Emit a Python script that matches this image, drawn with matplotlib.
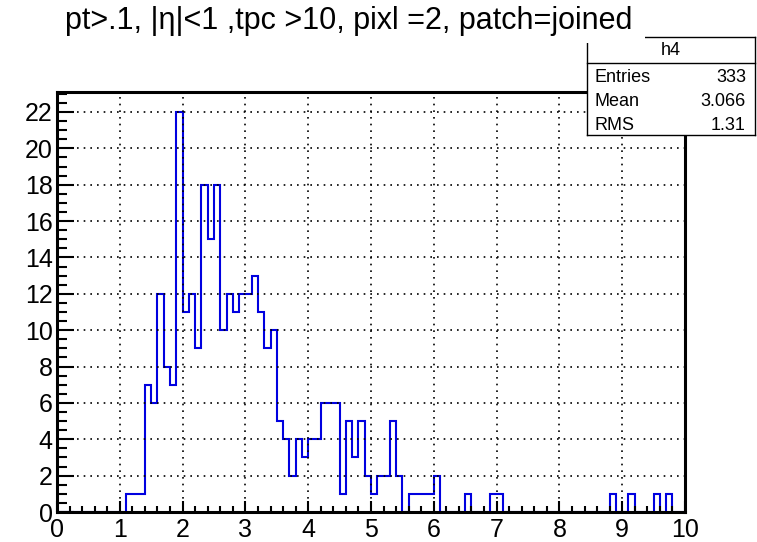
import numpy as np
import matplotlib.pyplot as plt
from matplotlib.lines import Line2D
from matplotlib.patches import Rectangle

plt.rcParams['font.family'] = ['Liberation Sans', 'DejaVu Sans']

# histogram h4: 100 bins of width 0.1 from 0 to 10
x_min = 0.0
x_max = 10.0
bin_counts = [
    0, 0, 0, 0, 0, 0, 0, 0, 0, 0,
    0, 1, 1, 1, 7, 6, 12, 8, 7, 22,
    11, 12, 9, 18, 15, 18, 10, 12, 11, 12,
    12, 13, 11, 9, 10, 5, 4, 2, 4, 3,
    4, 4, 6, 6, 6, 1, 5, 3, 5, 2,
    1, 2, 2, 5, 2, 0, 1, 1, 1, 1,
    2, 0, 0, 0, 0, 1, 0, 0, 0, 1,
    1, 0, 0, 0, 0, 0, 0, 0, 0, 0,
    0, 0, 0, 0, 0, 0, 0, 0, 1, 0,
    0, 1, 0, 0, 0, 1, 0, 1, 0, 0,
]
title = "pt>.1, |η|<1 ,tpc >10, pixl =2, patch=joined"
stats_name = "h4"
stats_labels = ["Entries", "Mean", "RMS"]
stats_values = ["333", "3.066", "1.31"]

W, H = 757, 542


def fx(x):
    return x / W


def fy(y):
    return 1 - y / H


fig = plt.figure(figsize=(W / 100, H / 100), dpi=100)
ax = fig.add_axes([fx(57), fy(512), (685 - 57) / W, (512 - 92) / H])

edges = np.linspace(x_min, x_max, len(bin_counts) + 1)
ax.stairs(bin_counts, edges, color='#0000e0', linewidth=1.5, baseline=None)

ax.set_xlim(x_min, x_max)
ax.set_ylim(0, max(bin_counts) * 1.05)
ax.set_xticks(range(0, 11))
ax.set_xticks(np.arange(0, 10.01, 0.2), minor=True)
ax.set_yticks(range(0, 23, 2))
ax.set_yticks(np.arange(0, 23.1, 0.5), minor=True)
ax.grid(True, which='major', color='black', linestyle=(0, (1, 3)), linewidth=1.2)

for s in ax.spines.values():
    s.set_linewidth(2.2)
ax.tick_params(axis='both', which='both', direction='in', labelsize=18, width=1.5)
ax.tick_params(axis='y', which='major', length=12, pad=3)
ax.tick_params(axis='y', which='minor', length=7)
ax.tick_params(axis='x', which='major', length=8, pad=4)
ax.tick_params(axis='x', which='minor', length=4)

# stats box (opaque, drawn over the frame)
box_l, box_r, box_t, box_b, box_mid = 587, 755, 37, 135, 63
fig.add_artist(Rectangle((fx(box_l), fy(box_b)), (box_r - box_l) / W, (box_b - box_t) / H,
                         facecolor='white', edgecolor='none', zorder=5))
segs = [
    ((645, box_t), (box_r, box_t)),
    ((box_r, box_t), (box_r, box_b)),
    ((box_l, box_b), (box_r, box_b)),
    ((box_l, 43), (box_l, box_b)),
    ((box_l, box_mid), (box_r, box_mid)),
]
for (x0, y0), (x1, y1) in segs:
    fig.add_artist(Line2D([fx(x0), fx(x1)], [fy(y0), fy(y1)], color='black', linewidth=1.0, zorder=6))

fig.text(fx(671), fy(51), stats_name, fontsize=13, ha='center', va='center', zorder=7)
row_y = [77, 101, 125]
for lab, val, yy in zip(stats_labels, stats_values, row_y):
    fig.text(fx(595), fy(yy), lab, fontsize=13, ha='left', va='center', zorder=7)
    fig.text(fx(746), fy(yy), val, fontsize=13, ha='right', va='center', zorder=7)

# title box covers the top-left corner of the stats box
fig.add_artist(Rectangle((fx(40), fy(43)), (645 - 40) / W, 43 / H,
                         facecolor='white', edgecolor='none', zorder=8))
fig.text(fx(349), fy(21), title, fontsize=22, ha='center', va='center', zorder=9)

fig.savefig('out.png', dpi=100)
